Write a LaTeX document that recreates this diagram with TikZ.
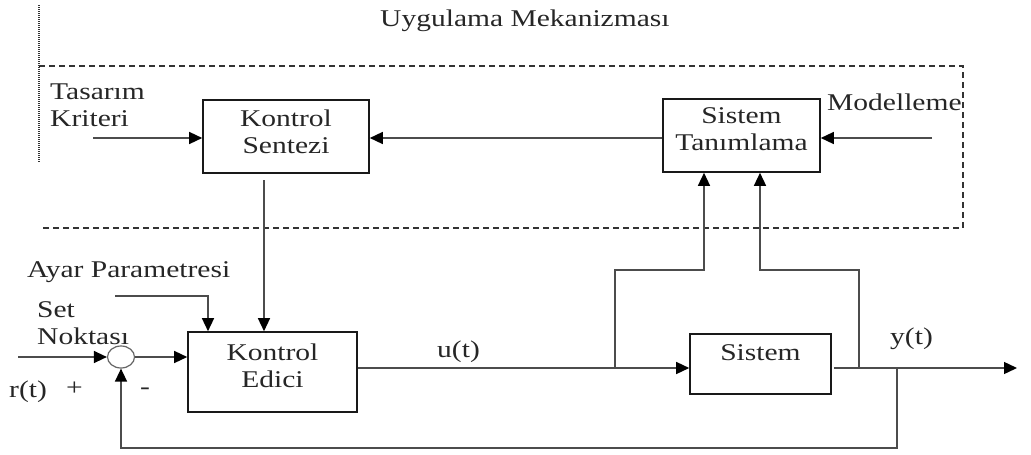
\documentclass[tikz,border=0pt]{standalone}
\usepackage{fontspec}
\setmainfont{Liberation Serif}[FakeStretch=1.23]
\usetikzlibrary{arrows.meta,shapes.geometric,calc}

\begin{document}
\begin{tikzpicture}[x=1pt,y=-1pt,
  txt/.style={font=\fontsize{24}{27}\selectfont, text=black!85, inner sep=0pt},
  blk/.style={draw=black!90, line width=1.6pt, txt, align=center},
  wire/.style={draw=black!70, line width=1.4pt},
  flow/.style={wire, -{Triangle[length=13pt,width=12pt,color=black]}},
  frame/.style={draw=black!80, line width=1.2pt, dash pattern=on 6pt off 4pt},
  dotline/.style={draw=black!80, line width=1.2pt, dash pattern=on 1pt off 1pt},
]
\useasboundingbox (0,0) rectangle (1031,455);

% blocks
\node[blk, minimum width=166pt, minimum height=73pt, text height=42pt, text depth=9pt] (ks) at (286,136.5) {Kontrol\\Sentezi};
\node[blk, minimum width=157pt, minimum height=73pt, text height=42pt, text depth=13pt] (st) at (741.5,135.5) {Sistem\\Tanımlama};
\node[blk, minimum width=169pt, minimum height=80pt, text height=42pt, text depth=12pt] (ke) at (272.5,372) {Kontrol\\Edici};
\node[blk, minimum width=141pt, minimum height=60pt, text height=15pt, text depth=23pt] (sys) at (760.5,364) {Sistem};
\node[draw=black!60, line width=1.2pt, ellipse, minimum width=27pt, minimum height=22pt, inner sep=0pt] (sum) at (121,357) {};

% adaptation frame
\draw[frame] (39,66) -- (963,66) -- (963,228) -- (43,228);
\draw[dotline] (39,5) -- (39,162);

% labels
\node[txt, anchor=base west] (title) at (380,27) {Uygulama Mekanizması};
\node[txt, anchor=west, align=left] (tas) at (50,105) {Tasarım\\Kriteri};
\node[txt, anchor=base west] (mod) at (827,110) {Modelleme};
\node[txt, anchor=base west] (ayar) at (27,277) {Ayar Parametresi};
\node[txt, anchor=west, align=left] (set) at (37,323) {Set\\Noktası};
\node[txt, anchor=base west] (rt) at (9,397) {r(t)};
\node[txt, anchor=base west] (plus) at (66,395) {+};
\node[txt, anchor=base west] (minus) at (140,394) {-};
\node[txt, anchor=base west] (ut) at (437,357) {u(t)};
\node[txt, anchor=base west] (yt) at (890,344) {y(t)};

% coordinates of free ends and branch points
\coordinate (tasIn) at (93,138);
\coordinate (modIn) at (932,138);
\coordinate (ksOut) at (264,180);
\coordinate (ayarIn) at (115,296);
\coordinate (ayarDrop) at (208,296);
\coordinate (refIn) at (18,357);
\coordinate (uOut) at ($(ke.east)+(0,-4)$);
\coordinate (b1) at (615,368);
\coordinate (b1top) at (615,270);
\coordinate (s1) at (704,270);
\coordinate (b2) at (859,368);
\coordinate (b2top) at (859,270);
\coordinate (s2) at (760,270);
\coordinate (fb) at (897,368);
\coordinate (fbLow) at (897,448);
\coordinate (yEnd) at (1017,368);

% upper loop
\draw[flow] (tasIn) -- (tasIn -| ks.west);
\draw[flow] (st.west |- tasIn) -- (ks.east |- tasIn);
\draw[flow] (modIn) -- (modIn -| st.east);
\draw[flow] (ksOut) -- (ksOut |- ke.north);

% control loop
\draw[flow] (ayarIn) -- (ayarDrop) -- (ayarDrop |- ke.north);
\draw[flow] (refIn) -- (sum.west);
\draw[flow] (sum.east) -- (sum.east -| ke.west);
\draw[flow] (uOut) -- (uOut -| sys.west);
\draw[flow] ([xshift=2pt]sys.east |- yEnd) -- (yEnd);
\draw[flow] (b1) -- (b1top) -- (s1) -- (s1 |- st.south);
\draw[flow] (b2) -- (b2top) -- (s2) -- (s2 |- st.south);
\draw[flow] (fb) -- (fbLow) -| (sum.south);
\end{tikzpicture}
\end{document}
